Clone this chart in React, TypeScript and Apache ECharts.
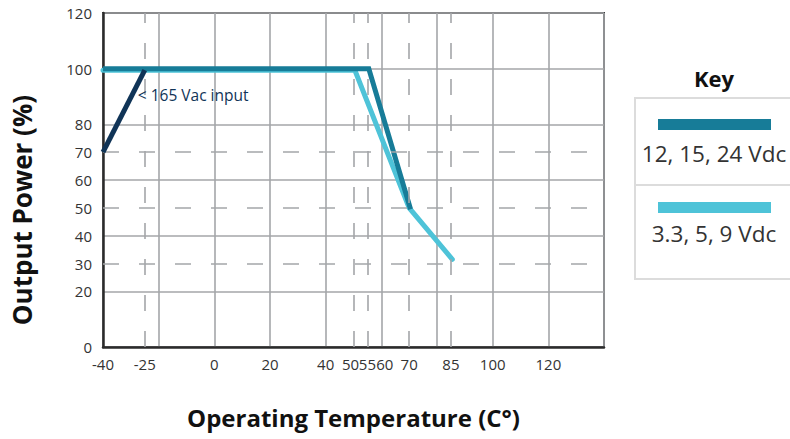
import React, { useEffect, useRef } from "react";
import * as echarts from "echarts";

const seriesNames = ["< 165 Vac input", "12, 15, 24 Vdc", "3.3, 5, 9 Vdc"];
const acX = [-40, -25];
const acY = [70, 99.5];
const highX = [-40, 55.5, 70.5];
const highY = [100, 100, 49.5];
const lowX = [-40, 50.5, 70, 85.5];
const lowY = [99.4, 99.4, 50, 31.5];
const xLabels = [-40, -25, 0, 20, 40, 50, 55, 60, 70, 85, 100, 120];
const yLabels = [0, 20, 30, 40, 50, 60, 70, 80, 100, 120];
const xDashed = [-25, 50, 55, 70, 85];
const yDashed = [70, 50, 30];

const NAVY = "#103457";
const TEAL = "#177c98";
const CYAN = "#4ec3d8";
const FONT = "'Open Sans', sans-serif";

const pairs = (xs: number[], ys: number[]) => xs.map((x, i) => [x, ys[i]]);

export default function App() {
  const ref = useRef<HTMLDivElement>(null);
  useEffect(() => {
    if (!ref.current) return;
    const chart = echarts.init(ref.current, null, { renderer: "svg" });
    const gridColor = "#a4a6a9";
    chart.setOption({
      animation: false,
      grid: {
        left: 103,
        top: 13,
        right: 186,
        bottom: 92,
        show: true,
        borderColor: "#3c3c3c",
        borderWidth: 2,
        containLabel: false,
      },
      xAxis: {
        type: "value",
        min: -40,
        max: 140,
        interval: 20,
        name: "Operating Temperature (C°)",
        nameLocation: "middle",
        nameGap: 58,
        nameTextStyle: { fontFamily: FONT, fontWeight: "bold", fontSize: 24, color: "#111" },
        axisLine: { show: true, onZero: false, lineStyle: { color: "#2b2b2b", width: 2.5 } },
        axisTick: { show: false },
        axisLabel: {
          customValues: xLabels,
          fontFamily: FONT,
          fontSize: 15,
          color: "#333",
          margin: 9,
          formatter: (v: number) => (v === 50 ? "{l|50}" : v === 60 ? "{r|60}" : String(v)),
          rich: {
            l: { fontFamily: FONT, fontSize: 15, color: "#333", padding: [0, 6, 0, 0] },
            r: { fontFamily: FONT, fontSize: 15, color: "#333", padding: [0, 0, 0, 7] },
          },
        },
        splitLine: { show: true, lineStyle: { color: gridColor, width: 1.6 } },
      },
      yAxis: {
        type: "value",
        min: 0,
        max: 120,
        interval: 20,
        axisLine: { show: true, onZero: false, lineStyle: { color: "#2b2b2b", width: 2.5 } },
        axisTick: { show: false },
        axisLabel: {
          customValues: yLabels,
          fontFamily: FONT,
          fontSize: 15,
          color: "#333",
          margin: 11,
        },
        splitLine: { show: true, lineStyle: { color: gridColor, width: 1.6 } },
      },
      graphic: [
        {
          type: "text",
          x: 22,
          y: 210,
          rotation: Math.PI / 2,
          style: {
            text: "Output Power (%)",
            fontFamily: FONT,
            fontWeight: "bold",
            fontSize: 26,
            fill: "#111",
            align: "center",
            verticalAlign: "middle",
          },
        },
        {
          type: "text",
          x: 714,
          y: 78,
          style: {
            text: "Key",
            fontFamily: FONT,
            fontWeight: "bold",
            fontSize: 22,
            fill: "#111",
            align: "center",
            verticalAlign: "middle",
          },
        },
        {
          type: "rect",
          shape: { x: 635, y: 98, width: 180, height: 181 },
          style: { fill: "none", stroke: "#dcdcdc", lineWidth: 2 },
        },
        {
          type: "line",
          shape: { x1: 635, y1: 185, x2: 790, y2: 185 },
          style: { stroke: "#dcdcdc", lineWidth: 2 },
        },
        {
          type: "rect",
          shape: { x: 658, y: 119, width: 113, height: 11 },
          style: { fill: TEAL },
        },
        {
          type: "text",
          x: 714,
          y: 153,
          style: {
            text: seriesNames[1],
            fontFamily: FONT,
            fontSize: 22.5,
            fill: "#333",
            align: "center",
            verticalAlign: "middle",
          },
        },
        {
          type: "rect",
          shape: { x: 658, y: 202, width: 113, height: 11 },
          style: { fill: CYAN },
        },
        {
          type: "text",
          x: 714,
          y: 233,
          style: {
            text: seriesNames[2],
            fontFamily: FONT,
            fontSize: 22.5,
            fill: "#333",
            align: "center",
            verticalAlign: "middle",
          },
        },
      ],
      series: [
        {
          type: "line",
          name: "dashes",
          data: [],
          z: 1,
          silent: true,
          markLine: {
            silent: true,
            symbol: "none",
            label: { show: false },
            lineStyle: { color: gridColor, width: 1.6, type: [16, 20] },
            data: [
              ...xDashed.map((v) => ({ xAxis: v })),
              ...yDashed.map((v) => ({ yAxis: v })),
            ],
          },
        },
        {
          type: "line",
          name: seriesNames[2],
          data: pairs(lowX, lowY),
          symbol: "none",
          z: 3,
          lineStyle: { color: CYAN, width: 5, cap: "round", join: "miter" },
        },
        {
          type: "line",
          name: seriesNames[1],
          data: pairs(highX, highY),
          symbol: "none",
          z: 4,
          lineStyle: { color: TEAL, width: 5, cap: "butt", join: "miter" },
        },
        {
          type: "line",
          name: seriesNames[0],
          data: pairs(acX, acY),
          symbol: "none",
          z: 5,
          lineStyle: { color: NAVY, width: 5, cap: "butt" },
          markPoint: {
            symbol: "circle",
            symbolSize: 0,
            data: [{ coord: [-27.5, 90.5] }],
            label: {
              show: true,
              position: "right",
              distance: 0,
              formatter: seriesNames[0],
              fontFamily: FONT,
              fontSize: 15.5,
              color: NAVY,
            },
          },
        },
      ],
    });
    return () => chart.dispose();
  }, []);
  return <div ref={ref} style={{ width: 790, height: 439, position: "absolute", left: 0, top: 0 }} />;
}
